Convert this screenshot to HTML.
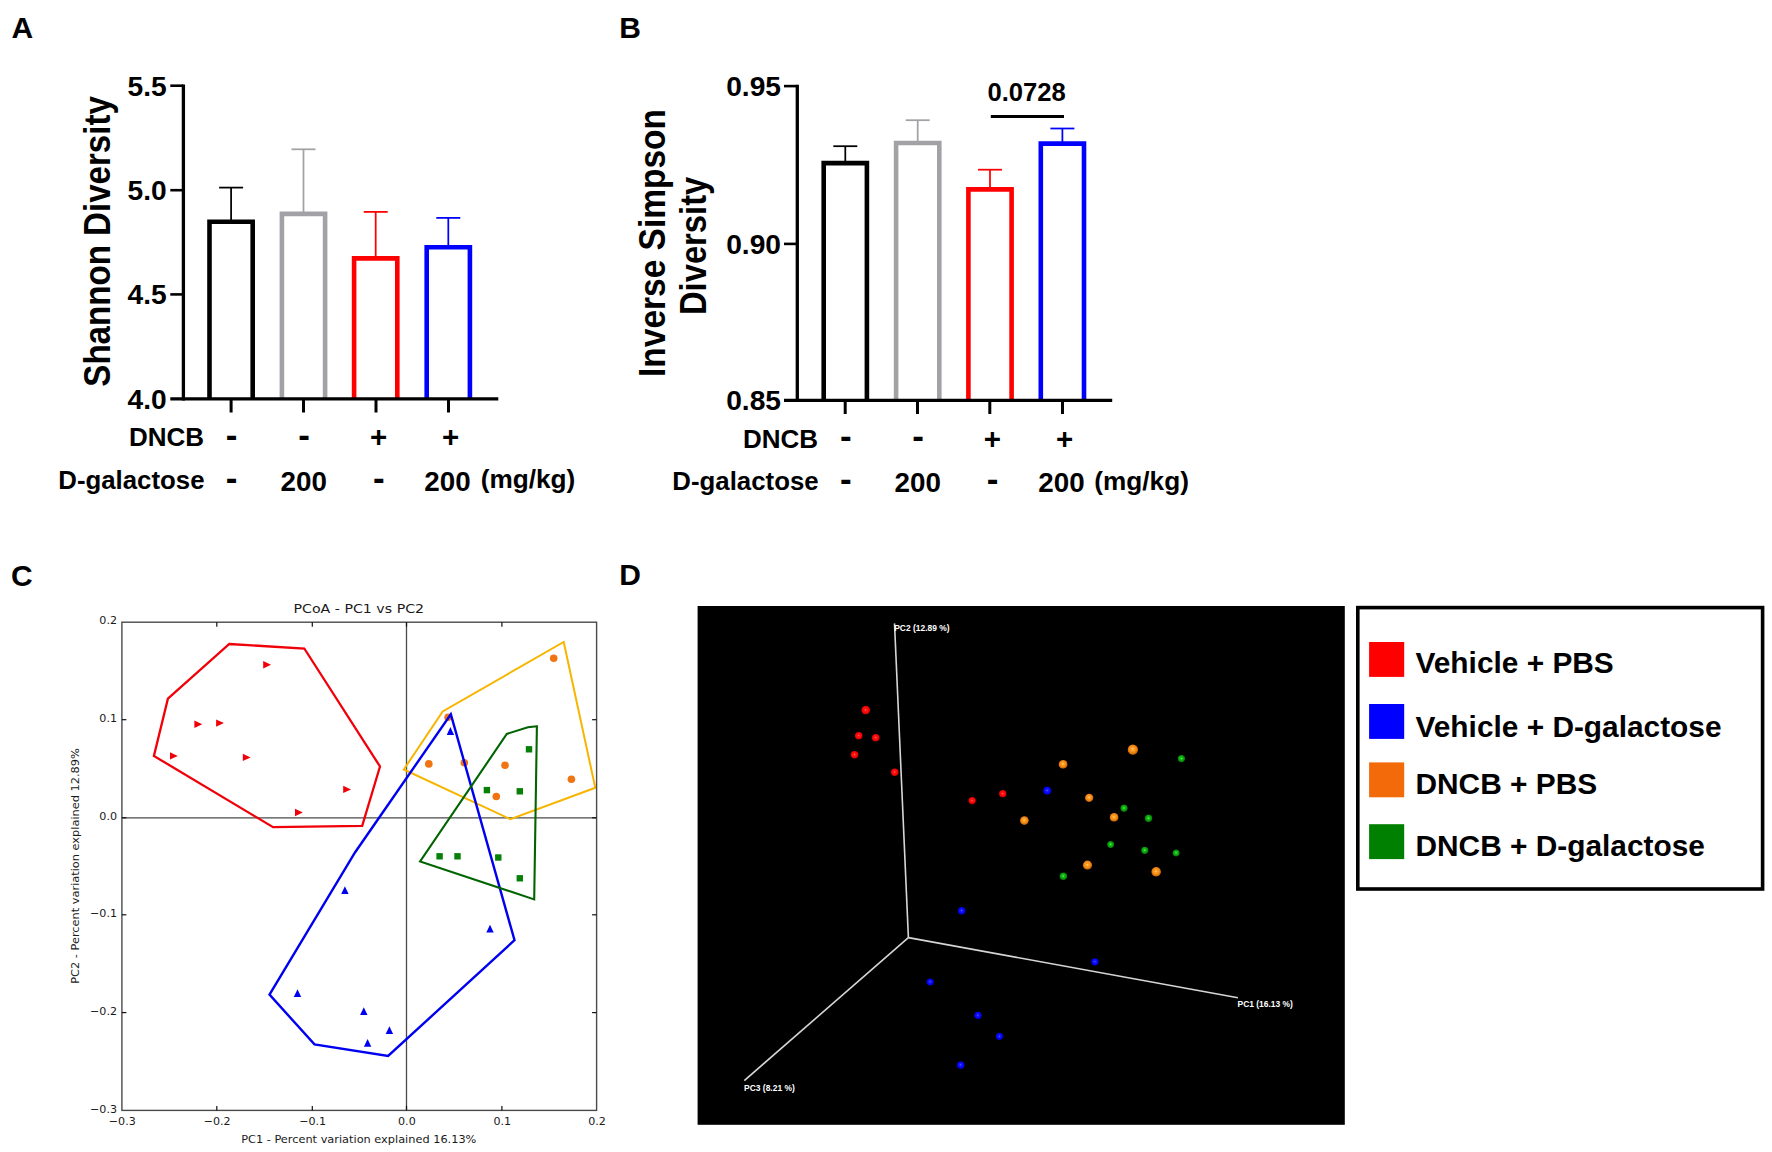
<!DOCTYPE html>
<html lang="en">
<head>
<meta charset="utf-8">
<title>Figure: diversity and PCoA</title>
<style>
html,body{margin:0;padding:0;background:#fff;}
svg{display:block;}
text{white-space:pre;}
</style>
</head>
<body>
<svg width="1772" height="1152" viewBox="0 0 1772 1152">
<defs>
<radialGradient id="gR" cx="48%" cy="46%" r="54%"><stop offset="0" stop-color="#ff7a70"/><stop offset="0.22" stop-color="#ff1a1a"/><stop offset="0.7" stop-color="#f80000"/><stop offset="0.88" stop-color="#c00000"/><stop offset="1" stop-color="#4a0000"/></radialGradient>
<radialGradient id="gB" cx="48%" cy="46%" r="54%"><stop offset="0" stop-color="#6a6aff"/><stop offset="0.22" stop-color="#1a1aff"/><stop offset="0.7" stop-color="#0000f8"/><stop offset="0.88" stop-color="#0000c0"/><stop offset="1" stop-color="#00004a"/></radialGradient>
<radialGradient id="gO" cx="48%" cy="44%" r="56%"><stop offset="0" stop-color="#ffd468"/><stop offset="0.25" stop-color="#ffa22a"/><stop offset="0.65" stop-color="#f08312"/><stop offset="0.88" stop-color="#c46404"/><stop offset="1" stop-color="#583000"/></radialGradient>
<radialGradient id="gG" cx="48%" cy="46%" r="54%"><stop offset="0" stop-color="#6cff6c"/><stop offset="0.25" stop-color="#1cc41c"/><stop offset="0.65" stop-color="#0a9c0a"/><stop offset="0.88" stop-color="#067006"/><stop offset="1" stop-color="#022802"/></radialGradient>
</defs>
<rect x="0" y="0" width="1772" height="1152" fill="#fff"/>
<g id="panelA">
<text x="11.6" y="38.3" font-family='"Liberation Sans", Arial, Helvetica, sans-serif' font-size="30" font-weight="bold" text-anchor="start" fill="#000">A</text>
<path d="M209.5 398.9 V221.7 H252.7 V398.9" fill="none" stroke="#000" stroke-width="4.6" stroke-linejoin="miter"/>
<line x1="231.1" y1="187.6" x2="231.1" y2="220.4" stroke="#000" stroke-width="1.75" stroke-linecap="butt"/>
<line x1="219.1" y1="187.6" x2="243.1" y2="187.6" stroke="#000" stroke-width="1.75" stroke-linecap="butt"/>
<path d="M281.9 398.9 V213.9 H325.1 V398.9" fill="none" stroke="#a2a2a6" stroke-width="4.6" stroke-linejoin="miter"/>
<line x1="303.5" y1="149.3" x2="303.5" y2="212.6" stroke="#a2a2a6" stroke-width="1.75" stroke-linecap="butt"/>
<line x1="291.5" y1="149.3" x2="315.5" y2="149.3" stroke="#a2a2a6" stroke-width="1.75" stroke-linecap="butt"/>
<path d="M354.1 398.9 V258.4 H397.3 V398.9" fill="none" stroke="#ff0000" stroke-width="4.6" stroke-linejoin="miter"/>
<line x1="375.7" y1="211.9" x2="375.7" y2="257.1" stroke="#ff0000" stroke-width="1.75" stroke-linecap="butt"/>
<line x1="363.7" y1="211.9" x2="387.7" y2="211.9" stroke="#ff0000" stroke-width="1.75" stroke-linecap="butt"/>
<path d="M426.7 398.9 V247.2 H469.9 V398.9" fill="none" stroke="#0000ff" stroke-width="4.6" stroke-linejoin="miter"/>
<line x1="448.3" y1="217.9" x2="448.3" y2="245.9" stroke="#0000ff" stroke-width="1.75" stroke-linecap="butt"/>
<line x1="436.3" y1="217.9" x2="460.3" y2="217.9" stroke="#0000ff" stroke-width="1.75" stroke-linecap="butt"/>
<line x1="183.4" y1="84.4" x2="183.4" y2="400.55" stroke="#000" stroke-width="3.3" stroke-linecap="butt"/>
<line x1="170.3" y1="398.9" x2="498.3" y2="398.9" stroke="#000" stroke-width="3.3" stroke-linecap="butt"/>
<line x1="170.3" y1="85.7" x2="183.4" y2="85.7" stroke="#000" stroke-width="2.6" stroke-linecap="butt"/>
<text x="166.7" y="95.6" font-family='"Liberation Sans", Arial, Helvetica, sans-serif' font-size="28.2" font-weight="bold" text-anchor="end" fill="#000">5.5</text>
<line x1="170.3" y1="190.2" x2="183.4" y2="190.2" stroke="#000" stroke-width="2.6" stroke-linecap="butt"/>
<text x="166.7" y="200.1" font-family='"Liberation Sans", Arial, Helvetica, sans-serif' font-size="28.2" font-weight="bold" text-anchor="end" fill="#000">5.0</text>
<line x1="170.3" y1="294.4" x2="183.4" y2="294.4" stroke="#000" stroke-width="2.6" stroke-linecap="butt"/>
<text x="166.7" y="304.3" font-family='"Liberation Sans", Arial, Helvetica, sans-serif' font-size="28.2" font-weight="bold" text-anchor="end" fill="#000">4.5</text>
<text x="166.7" y="408.8" font-family='"Liberation Sans", Arial, Helvetica, sans-serif' font-size="28.2" font-weight="bold" text-anchor="end" fill="#000">4.0</text>
<line x1="231.1" y1="398.9" x2="231.1" y2="412.5" stroke="#000" stroke-width="3" stroke-linecap="butt"/>
<line x1="303.5" y1="398.9" x2="303.5" y2="412.5" stroke="#000" stroke-width="3" stroke-linecap="butt"/>
<line x1="376" y1="398.9" x2="376" y2="412.5" stroke="#000" stroke-width="3" stroke-linecap="butt"/>
<line x1="448.5" y1="398.9" x2="448.5" y2="412.5" stroke="#000" stroke-width="3" stroke-linecap="butt"/>
<text x="204" y="446" font-family='"Liberation Sans", Arial, Helvetica, sans-serif' font-size="26" font-weight="bold" text-anchor="end" fill="#000">DNCB</text>
<text x="204.5" y="488.6" font-family='"Liberation Sans", Arial, Helvetica, sans-serif' font-size="25.8" font-weight="bold" text-anchor="end" fill="#000">D-galactose</text>
<text x="231.7" y="446.8" font-family='"Liberation Sans", Arial, Helvetica, sans-serif' font-size="35" font-weight="bold" text-anchor="middle" fill="#000">-</text>
<text x="304.1" y="446.8" font-family='"Liberation Sans", Arial, Helvetica, sans-serif' font-size="35" font-weight="bold" text-anchor="middle" fill="#000">-</text>
<text x="378.5" y="446.9" font-family='"Liberation Sans", Arial, Helvetica, sans-serif' font-size="29.5" font-weight="bold" text-anchor="middle" fill="#000">+</text>
<text x="450.5" y="446.9" font-family='"Liberation Sans", Arial, Helvetica, sans-serif' font-size="29.5" font-weight="bold" text-anchor="middle" fill="#000">+</text>
<text x="231.7" y="489.7" font-family='"Liberation Sans", Arial, Helvetica, sans-serif' font-size="35" font-weight="bold" text-anchor="middle" fill="#000">-</text>
<text x="303.7" y="490.7" font-family='"Liberation Sans", Arial, Helvetica, sans-serif' font-size="27.8" font-weight="bold" text-anchor="middle" fill="#000">200</text>
<text x="378.8" y="489.7" font-family='"Liberation Sans", Arial, Helvetica, sans-serif' font-size="35" font-weight="bold" text-anchor="middle" fill="#000">-</text>
<text x="447.5" y="490.7" font-family='"Liberation Sans", Arial, Helvetica, sans-serif' font-size="27.8" font-weight="bold" text-anchor="middle" fill="#000">200</text>
<text x="480.7" y="488.1" font-family='"Liberation Sans", Arial, Helvetica, sans-serif' font-size="26.2" font-weight="bold" text-anchor="start" fill="#000">(mg/kg)</text>
<text transform="translate(110.3 241.4) rotate(-90)" font-family='"Liberation Sans", Arial, Helvetica, sans-serif' font-size="36.4" font-weight="bold" text-anchor="middle" fill="#000" textLength="290.6" lengthAdjust="spacingAndGlyphs">Shannon Diversity</text>
</g>
<g id="panelB">
<text x="619.3" y="38.3" font-family='"Liberation Sans", Arial, Helvetica, sans-serif' font-size="30" font-weight="bold" text-anchor="start" fill="#000">B</text>
<path d="M823.7 400.4 V163.1 H866.9 V400.4" fill="none" stroke="#000" stroke-width="4.6" stroke-linejoin="miter"/>
<line x1="845.3" y1="146.2" x2="845.3" y2="161.8" stroke="#000" stroke-width="1.75" stroke-linecap="butt"/>
<line x1="833.3" y1="146.2" x2="857.3" y2="146.2" stroke="#000" stroke-width="1.75" stroke-linecap="butt"/>
<path d="M896.1 400.4 V143 H939.3 V400.4" fill="none" stroke="#a2a2a6" stroke-width="4.6" stroke-linejoin="miter"/>
<line x1="917.7" y1="120.2" x2="917.7" y2="141.7" stroke="#a2a2a6" stroke-width="1.75" stroke-linecap="butt"/>
<line x1="905.7" y1="120.2" x2="929.7" y2="120.2" stroke="#a2a2a6" stroke-width="1.75" stroke-linecap="butt"/>
<path d="M968.4 400.4 V189.4 H1011.6 V400.4" fill="none" stroke="#ff0000" stroke-width="4.6" stroke-linejoin="miter"/>
<line x1="990" y1="169.7" x2="990" y2="188.1" stroke="#ff0000" stroke-width="1.75" stroke-linecap="butt"/>
<line x1="978" y1="169.7" x2="1002" y2="169.7" stroke="#ff0000" stroke-width="1.75" stroke-linecap="butt"/>
<path d="M1040.8 400.4 V143.6 H1084 V400.4" fill="none" stroke="#0000ff" stroke-width="4.6" stroke-linejoin="miter"/>
<line x1="1062.4" y1="128.5" x2="1062.4" y2="142.3" stroke="#0000ff" stroke-width="1.75" stroke-linecap="butt"/>
<line x1="1050.4" y1="128.5" x2="1074.4" y2="128.5" stroke="#0000ff" stroke-width="1.75" stroke-linecap="butt"/>
<line x1="797.3" y1="84.8" x2="797.3" y2="402.05" stroke="#000" stroke-width="3.3" stroke-linecap="butt"/>
<line x1="784" y1="400.4" x2="1112.2" y2="400.4" stroke="#000" stroke-width="3.3" stroke-linecap="butt"/>
<line x1="784" y1="86.1" x2="797.3" y2="86.1" stroke="#000" stroke-width="2.6" stroke-linecap="butt"/>
<text x="781" y="96" font-family='"Liberation Sans", Arial, Helvetica, sans-serif' font-size="28.2" font-weight="bold" text-anchor="end" fill="#000">0.95</text>
<line x1="784" y1="243.9" x2="797.3" y2="243.9" stroke="#000" stroke-width="2.6" stroke-linecap="butt"/>
<text x="781" y="253.8" font-family='"Liberation Sans", Arial, Helvetica, sans-serif' font-size="28.2" font-weight="bold" text-anchor="end" fill="#000">0.90</text>
<text x="781" y="410.3" font-family='"Liberation Sans", Arial, Helvetica, sans-serif' font-size="28.2" font-weight="bold" text-anchor="end" fill="#000">0.85</text>
<line x1="845.2" y1="400.4" x2="845.2" y2="414" stroke="#000" stroke-width="3" stroke-linecap="butt"/>
<line x1="917.5" y1="400.4" x2="917.5" y2="414" stroke="#000" stroke-width="3" stroke-linecap="butt"/>
<line x1="989.8" y1="400.4" x2="989.8" y2="414" stroke="#000" stroke-width="3" stroke-linecap="butt"/>
<line x1="1062.5" y1="400.4" x2="1062.5" y2="414" stroke="#000" stroke-width="3" stroke-linecap="butt"/>
<text x="818.1" y="447.6" font-family='"Liberation Sans", Arial, Helvetica, sans-serif' font-size="26" font-weight="bold" text-anchor="end" fill="#000">DNCB</text>
<text x="818.6" y="490.3" font-family='"Liberation Sans", Arial, Helvetica, sans-serif' font-size="25.8" font-weight="bold" text-anchor="end" fill="#000">D-galactose</text>
<text x="845.8" y="448.4" font-family='"Liberation Sans", Arial, Helvetica, sans-serif' font-size="35" font-weight="bold" text-anchor="middle" fill="#000">-</text>
<text x="918.1" y="448.4" font-family='"Liberation Sans", Arial, Helvetica, sans-serif' font-size="35" font-weight="bold" text-anchor="middle" fill="#000">-</text>
<text x="992.3" y="448.5" font-family='"Liberation Sans", Arial, Helvetica, sans-serif' font-size="29.5" font-weight="bold" text-anchor="middle" fill="#000">+</text>
<text x="1064.5" y="448.5" font-family='"Liberation Sans", Arial, Helvetica, sans-serif' font-size="29.5" font-weight="bold" text-anchor="middle" fill="#000">+</text>
<text x="845.8" y="491.4" font-family='"Liberation Sans", Arial, Helvetica, sans-serif' font-size="35" font-weight="bold" text-anchor="middle" fill="#000">-</text>
<text x="917.7" y="492.4" font-family='"Liberation Sans", Arial, Helvetica, sans-serif' font-size="27.8" font-weight="bold" text-anchor="middle" fill="#000">200</text>
<text x="992.6" y="491.4" font-family='"Liberation Sans", Arial, Helvetica, sans-serif' font-size="35" font-weight="bold" text-anchor="middle" fill="#000">-</text>
<text x="1061.5" y="492.4" font-family='"Liberation Sans", Arial, Helvetica, sans-serif' font-size="27.8" font-weight="bold" text-anchor="middle" fill="#000">200</text>
<text x="1094.3" y="489.8" font-family='"Liberation Sans", Arial, Helvetica, sans-serif' font-size="26.2" font-weight="bold" text-anchor="start" fill="#000">(mg/kg)</text>
<text transform="translate(665.2 243) rotate(-90)" font-family='"Liberation Sans", Arial, Helvetica, sans-serif' font-size="36.4" font-weight="bold" text-anchor="middle" fill="#000" textLength="268" lengthAdjust="spacingAndGlyphs">Inverse Simpson</text>
<text transform="translate(706.3 245.9) rotate(-90)" font-family='"Liberation Sans", Arial, Helvetica, sans-serif' font-size="36.4" font-weight="bold" text-anchor="middle" fill="#000" textLength="138.4" lengthAdjust="spacingAndGlyphs">Diversity</text>
<line x1="990.8" y1="116.5" x2="1064" y2="116.5" stroke="#000" stroke-width="2.8" stroke-linecap="butt"/>
<text x="1026.6" y="101.2" font-family='"Liberation Sans", Arial, Helvetica, sans-serif' font-size="25.6" font-weight="bold" text-anchor="middle" fill="#000">0.0728</text>
</g>
<g id="panelC">
<text x="11.1" y="585.5" font-family='"Liberation Sans", Arial, Helvetica, sans-serif' font-size="30" font-weight="bold" text-anchor="start" fill="#000">C</text>
<line x1="406.5" y1="622.2" x2="406.5" y2="1110.4" stroke="#4a4a4a" stroke-width="1.3" stroke-linecap="butt"/>
<line x1="121.9" y1="817.8" x2="596.6" y2="817.8" stroke="#4a4a4a" stroke-width="1.3" stroke-linecap="butt"/>
<polygon points="263.2,661 271,664.7 263.2,668.4" fill="#f00008"/>
<polygon points="194.4,720.6 202.2,724.3 194.4,728" fill="#f00008"/>
<polygon points="216.1,719.4 223.9,723.1 216.1,726.8" fill="#f00008"/>
<polygon points="170,752.2 177.8,755.9 170,759.6" fill="#f00008"/>
<polygon points="242.8,753.7 250.6,757.4 242.8,761.1" fill="#f00008"/>
<polygon points="343.2,785.7 351,789.4 343.2,793.1" fill="#f00008"/>
<polygon points="295,808.8 302.8,812.5 295,816.2" fill="#f00008"/>
<polygon points="446.7,734.9 450.4,727.1 454.1,734.9" fill="#0000f0"/>
<polygon points="341.2,894.1 344.9,886.3 348.6,894.1" fill="#0000f0"/>
<polygon points="486.3,932.5 490,924.7 493.7,932.5" fill="#0000f0"/>
<polygon points="293.8,997 297.5,989.2 301.2,997" fill="#0000f0"/>
<polygon points="360.1,1015.1 363.8,1007.3 367.5,1015.1" fill="#0000f0"/>
<polygon points="385.7,1034 389.4,1026.2 393.1,1034" fill="#0000f0"/>
<polygon points="363.9,1046.7 367.6,1038.9 371.3,1046.7" fill="#0000f0"/>
<circle cx="553.7" cy="658.3" r="3.8" fill="#f07412"/>
<circle cx="448.1" cy="717.3" r="3.8" fill="#f07412"/>
<circle cx="428.8" cy="763.9" r="3.8" fill="#f07412"/>
<circle cx="464.3" cy="762.8" r="3.8" fill="#f07412"/>
<circle cx="505" cy="765.2" r="3.8" fill="#f07412"/>
<circle cx="571.4" cy="779.2" r="3.8" fill="#f07412"/>
<circle cx="496.3" cy="796.5" r="3.8" fill="#f07412"/>
<rect x="525.8" y="746.1" width="6.4" height="6.4" fill="#068006"/>
<rect x="483.7" y="786.9" width="6.4" height="6.4" fill="#068006"/>
<rect x="516.6" y="788.1" width="6.4" height="6.4" fill="#068006"/>
<rect x="436.4" y="853.1" width="6.4" height="6.4" fill="#068006"/>
<rect x="454.3" y="853.1" width="6.4" height="6.4" fill="#068006"/>
<rect x="495.1" y="854.3" width="6.4" height="6.4" fill="#068006"/>
<rect x="516.6" y="875.1" width="6.4" height="6.4" fill="#068006"/>
<polygon points="229.3,644 304.3,648.5 380,766.5 362.2,825.8 273.1,827.2 153.9,755.9 167.9,698.7" fill="none" stroke="#f00008" stroke-width="2.3" stroke-linejoin="miter"/>
<polygon points="563.7,642 595.3,787.8 510.4,819.2 403.8,769.5 442.7,711.4" fill="none" stroke="#f7b500" stroke-width="2" stroke-linejoin="miter"/>
<polygon points="450.8,714.2 514.5,940.2 388.1,1056 314.5,1044.4 269.5,994.6 355,852.5" fill="none" stroke="#0000f0" stroke-width="2.4" stroke-linejoin="miter"/>
<polygon points="536.9,726.3 527.9,727.2 506.8,733.9 420.1,861.5 534.2,899.4" fill="none" stroke="#006400" stroke-width="2.1" stroke-linejoin="miter"/>
<rect x="121.9" y="622.2" width="474.7" height="488.2" fill="none" stroke="#4a4a4a" stroke-width="1.4"/>
<line x1="216.8" y1="622.2" x2="216.8" y2="626.7" stroke="#111" stroke-width="1.2" stroke-linecap="butt"/>
<line x1="216.8" y1="1110.4" x2="216.8" y2="1105.9" stroke="#111" stroke-width="1.2" stroke-linecap="butt"/>
<line x1="312.3" y1="622.2" x2="312.3" y2="626.7" stroke="#111" stroke-width="1.2" stroke-linecap="butt"/>
<line x1="312.3" y1="1110.4" x2="312.3" y2="1105.9" stroke="#111" stroke-width="1.2" stroke-linecap="butt"/>
<line x1="406.5" y1="622.2" x2="406.5" y2="626.7" stroke="#111" stroke-width="1.2" stroke-linecap="butt"/>
<line x1="406.5" y1="1110.4" x2="406.5" y2="1105.9" stroke="#111" stroke-width="1.2" stroke-linecap="butt"/>
<line x1="501.9" y1="622.2" x2="501.9" y2="626.7" stroke="#111" stroke-width="1.2" stroke-linecap="butt"/>
<line x1="501.9" y1="1110.4" x2="501.9" y2="1105.9" stroke="#111" stroke-width="1.2" stroke-linecap="butt"/>
<line x1="121.9" y1="719.7" x2="126.4" y2="719.7" stroke="#111" stroke-width="1.2" stroke-linecap="butt"/>
<line x1="596.6" y1="719.7" x2="592.1" y2="719.7" stroke="#111" stroke-width="1.2" stroke-linecap="butt"/>
<line x1="121.9" y1="817.8" x2="126.4" y2="817.8" stroke="#111" stroke-width="1.2" stroke-linecap="butt"/>
<line x1="596.6" y1="817.8" x2="592.1" y2="817.8" stroke="#111" stroke-width="1.2" stroke-linecap="butt"/>
<line x1="121.9" y1="914.8" x2="126.4" y2="914.8" stroke="#111" stroke-width="1.2" stroke-linecap="butt"/>
<line x1="596.6" y1="914.8" x2="592.1" y2="914.8" stroke="#111" stroke-width="1.2" stroke-linecap="butt"/>
<line x1="121.9" y1="1012.6" x2="126.4" y2="1012.6" stroke="#111" stroke-width="1.2" stroke-linecap="butt"/>
<line x1="596.6" y1="1012.6" x2="592.1" y2="1012.6" stroke="#111" stroke-width="1.2" stroke-linecap="butt"/>
<text x="122.3" y="1124.7" font-family='"DejaVu Sans", "Liberation Sans", sans-serif' font-size="11.1" font-weight="normal" text-anchor="middle" fill="#1a1a1a">−0.3</text>
<text x="217.2" y="1124.7" font-family='"DejaVu Sans", "Liberation Sans", sans-serif' font-size="11.1" font-weight="normal" text-anchor="middle" fill="#1a1a1a">−0.2</text>
<text x="312.7" y="1124.7" font-family='"DejaVu Sans", "Liberation Sans", sans-serif' font-size="11.1" font-weight="normal" text-anchor="middle" fill="#1a1a1a">−0.1</text>
<text x="406.9" y="1124.7" font-family='"DejaVu Sans", "Liberation Sans", sans-serif' font-size="11.1" font-weight="normal" text-anchor="middle" fill="#1a1a1a">0.0</text>
<text x="502.3" y="1124.7" font-family='"DejaVu Sans", "Liberation Sans", sans-serif' font-size="11.1" font-weight="normal" text-anchor="middle" fill="#1a1a1a">0.1</text>
<text x="597" y="1124.7" font-family='"DejaVu Sans", "Liberation Sans", sans-serif' font-size="11.1" font-weight="normal" text-anchor="middle" fill="#1a1a1a">0.2</text>
<text x="117" y="624.3" font-family='"DejaVu Sans", "Liberation Sans", sans-serif' font-size="11.1" font-weight="normal" text-anchor="end" fill="#1a1a1a">0.2</text>
<text x="117" y="721.8" font-family='"DejaVu Sans", "Liberation Sans", sans-serif' font-size="11.1" font-weight="normal" text-anchor="end" fill="#1a1a1a">0.1</text>
<text x="117" y="819.9" font-family='"DejaVu Sans", "Liberation Sans", sans-serif' font-size="11.1" font-weight="normal" text-anchor="end" fill="#1a1a1a">0.0</text>
<text x="117" y="916.9" font-family='"DejaVu Sans", "Liberation Sans", sans-serif' font-size="11.1" font-weight="normal" text-anchor="end" fill="#1a1a1a">−0.1</text>
<text x="117" y="1014.7" font-family='"DejaVu Sans", "Liberation Sans", sans-serif' font-size="11.1" font-weight="normal" text-anchor="end" fill="#1a1a1a">−0.2</text>
<text x="117" y="1112.5" font-family='"DejaVu Sans", "Liberation Sans", sans-serif' font-size="11.1" font-weight="normal" text-anchor="end" fill="#1a1a1a">−0.3</text>
<text x="358.8" y="613.3" font-family='"DejaVu Sans", "Liberation Sans", sans-serif' font-size="13.1" font-weight="normal" text-anchor="middle" fill="#1a1a1a" textLength="130.6" lengthAdjust="spacingAndGlyphs">PCoA - PC1 vs PC2</text>
<text x="358.8" y="1143.2" font-family='"DejaVu Sans", "Liberation Sans", sans-serif' font-size="11.1" font-weight="normal" text-anchor="middle" fill="#1a1a1a" textLength="235.2" lengthAdjust="spacingAndGlyphs">PC1 - Percent variation explained 16.13%</text>
<text transform="translate(79.4 866) rotate(-90)" font-family='"DejaVu Sans", "Liberation Sans", sans-serif' font-size="11.1" font-weight="normal" text-anchor="middle" fill="#1a1a1a" textLength="235.6" lengthAdjust="spacingAndGlyphs">PC2 - Percent variation explained 12.89%</text>
</g>
<g id="panelD">
<text x="619.2" y="585" font-family='"Liberation Sans", Arial, Helvetica, sans-serif' font-size="30" font-weight="bold" text-anchor="start" fill="#000">D</text>
<rect x="697.6" y="606.0" width="647.2" height="518.8" fill="#000"/>
<line x1="908.4" y1="937.6" x2="894.5" y2="623.4" stroke="#d6d6d6" stroke-width="1.6" stroke-linecap="butt"/>
<line x1="908.4" y1="937.6" x2="1237.9" y2="997.8" stroke="#d6d6d6" stroke-width="1.6" stroke-linecap="butt"/>
<line x1="908.4" y1="937.6" x2="744.3" y2="1080.6" stroke="#d6d6d6" stroke-width="1.6" stroke-linecap="butt"/>
<text x="894.2" y="631.1" font-family='"Liberation Sans", Arial, Helvetica, sans-serif' font-size="8.45" font-weight="bold" text-anchor="start" fill="#fff">PC2 (12.89 %)</text>
<text x="1237.5" y="1006.9" font-family='"Liberation Sans", Arial, Helvetica, sans-serif' font-size="8.45" font-weight="bold" text-anchor="start" fill="#fff">PC1 (16.13 %)</text>
<text x="744.1" y="1090.5" font-family='"Liberation Sans", Arial, Helvetica, sans-serif' font-size="8.45" font-weight="bold" text-anchor="start" fill="#fff">PC3 (8.21 %)</text>
<circle cx="865.8" cy="710.2" r="4.4" fill="url(#gR)"/>
<circle cx="858.8" cy="735.8" r="3.9" fill="url(#gR)"/>
<circle cx="875.8" cy="737.8" r="3.9" fill="url(#gR)"/>
<circle cx="854.6" cy="754.8" r="3.9" fill="url(#gR)"/>
<circle cx="894.8" cy="772.3" r="3.9" fill="url(#gR)"/>
<circle cx="972.2" cy="800.7" r="3.7" fill="url(#gR)"/>
<circle cx="1002.8" cy="793.8" r="3.8" fill="url(#gR)"/>
<circle cx="1047.3" cy="790.7" r="4.3" fill="url(#gB)"/>
<circle cx="961.8" cy="910.9" r="3.9" fill="url(#gB)"/>
<circle cx="1095" cy="962" r="3.8" fill="url(#gB)"/>
<circle cx="930.2" cy="982.1" r="3.7" fill="url(#gB)"/>
<circle cx="978" cy="1015.5" r="3.8" fill="url(#gB)"/>
<circle cx="999.5" cy="1036.5" r="3.7" fill="url(#gB)"/>
<circle cx="960.8" cy="1065.2" r="3.9" fill="url(#gB)"/>
<circle cx="1132.9" cy="749.7" r="5.2" fill="url(#gO)"/>
<circle cx="1063.1" cy="764.4" r="4.4" fill="url(#gO)"/>
<circle cx="1089.2" cy="797.9" r="4.2" fill="url(#gO)"/>
<circle cx="1114.1" cy="817.4" r="4.4" fill="url(#gO)"/>
<circle cx="1024.4" cy="820.6" r="4.4" fill="url(#gO)"/>
<circle cx="1087.5" cy="865.2" r="4.6" fill="url(#gO)"/>
<circle cx="1156.2" cy="871.9" r="4.8" fill="url(#gO)"/>
<circle cx="1181.5" cy="758.7" r="3.7" fill="url(#gG)"/>
<circle cx="1124.1" cy="808.3" r="3.7" fill="url(#gG)"/>
<circle cx="1148.6" cy="818.4" r="3.8" fill="url(#gG)"/>
<circle cx="1110.7" cy="844.6" r="3.6" fill="url(#gG)"/>
<circle cx="1144.8" cy="850.4" r="3.7" fill="url(#gG)"/>
<circle cx="1176.2" cy="853.1" r="3.6" fill="url(#gG)"/>
<circle cx="1063.4" cy="876.3" r="3.9" fill="url(#gG)"/>
</g>
<g id="legend">
<rect x="1357.8" y="607.6" width="404.8" height="281.4" fill="#fff" stroke="#000" stroke-width="3.6"/>
<rect x="1369.1" y="642" width="35.1" height="34.9" fill="#ff0000"/>
<text x="1415.5" y="673.1" font-family='"Liberation Sans", Arial, Helvetica, sans-serif' font-size="29.85" font-weight="bold" text-anchor="start" fill="#000">Vehicle + PBS</text>
<rect x="1369.1" y="704" width="35.1" height="34.9" fill="#0000ff"/>
<text x="1415.5" y="737" font-family='"Liberation Sans", Arial, Helvetica, sans-serif' font-size="29.85" font-weight="bold" text-anchor="start" fill="#000">Vehicle + D-galactose</text>
<rect x="1369.1" y="762.4" width="35.1" height="34.9" fill="#f26a0a"/>
<text x="1415.5" y="794.1" font-family='"Liberation Sans", Arial, Helvetica, sans-serif' font-size="29.85" font-weight="bold" text-anchor="start" fill="#000">DNCB + PBS</text>
<rect x="1369.1" y="824.2" width="35.1" height="34.9" fill="#008000"/>
<text x="1415.5" y="856.2" font-family='"Liberation Sans", Arial, Helvetica, sans-serif' font-size="29.85" font-weight="bold" text-anchor="start" fill="#000">DNCB + D-galactose</text>
</g>
</svg>
</body>
</html>
